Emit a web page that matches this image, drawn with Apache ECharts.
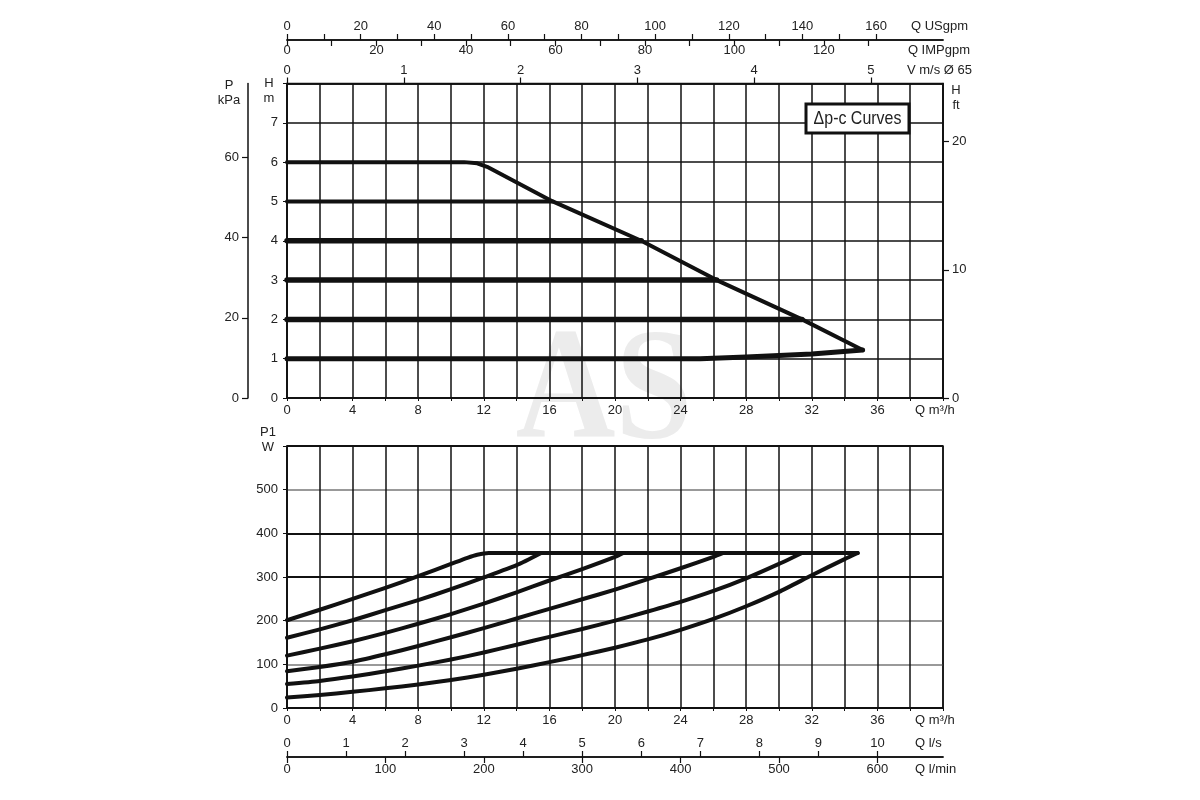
<!DOCTYPE html>
<html><head><meta charset="utf-8">
<script src="https://cdn.jsdelivr.net/npm/echarts@6/dist/echarts.min.js"></script>
<style>html,body{margin:0;padding:0;background:#fff}#c{width:1200px;height:800px}</style>
</head><body><div id="c"></div>
<script>
// ---- Head curves: [Q m³/h, H m] ----
const headMax6 = [[0,6],[10.8,6],[11.6,5.97],[12.2,5.88],[16.2,5],[21.6,4],[26.2,3],[31.4,2],[35.1,1.22]];
const head5 = [[0,5],[16.2,5]];
const head4 = [[0,4],[21.6,4]];
const head3 = [[0,3],[26.2,3]];
const head2 = [[0,2],[31.4,2]];
const head1 = [[0,1],[25.2,1],[28,1.04],[32,1.12],[35.1,1.22]];

// ---- Power curves: [Q m³/h, P1 W] ----
const power6 = [[0,201],[2,225],[4,250],[6,275],[8,302],[10,330],[11,344],[11.6,351],[12.3,355],[34.8,355]];
const power5 = [[0,161],[2,180],[4,201],[6,224],[8,247],[10,272],[12,299],[14,327],[15.5,355]];
const power4 = [[0,120],[2,136],[4,153],[6,172],[8,193],[10,215],[12,239],[14,265],[16,292],[18,318],[20,346],[20.5,355]];
const power3 = [[0,84],[2,94],[4,106],[6,123],[8,142],[10,162],[12,183],[14,205],[16,227],[18,249],[20,271],[22,295],[24,320],[26,346],[26.6,355]];
const power2 = [[0,55],[2,62],[4,72],[6,84],[8,97],[10,111],[12,127],[14,145],[16,163],[18,181],[20,200],[22,221],[24,243],[26,268],[28,297],[30,330],[31.4,355]];
const power1 = [[0,24],[2,30],[4,37],[6,45],[8,54],[10,64],[12,76],[14,90],[16,105],[18,121],[20,138],[22,157],[24,179],[26,204],[28,233],[30,266],[32,304],[34,341],[34.8,355]];

// ---- Tick labels of the auxiliary scales ----
const qMax = 40;            // m³/h, both panels
const hMax = 8;             // m
const wMax = 600;           // W
const usgpmTicks = [0,10,20,30,40,50,60,70,80,90,100,110,120,130,140,150,160];
const usgpmLabels = [0,20,40,60,80,100,120,140,160];
const impTicks = [0,10,20,30,40,50,60,70,80,90,100,110,120,130];
const impLabels = [0,20,40,60,80,100,120];
const velLabels = [0,1,2,3,4,5];
const kPaLabels = [0,20,40,60];
const ftLabels = [0,10,20];
const lsLabels = [0,1,2,3,4,5,6,7,8,9,10];
const lminLabels = [0,100,200,300,400,500,600];

// unit relations (m³/h per unit, m per unit) as printed on the sheet
const M3H_PER_USGPM = 0.2245, M3H_PER_IMPGPM = 0.2728, M3H_PER_MS = 7.12;
const M3H_PER_LS = 3.6, M3H_PER_LMIN = 0.06;
const M_PER_KPA = 0.102, M_PER_FT = 0.326;

const FONT = 'Liberation Sans, Arial, sans-serif';
const TXT = {color:'#222', fontSize:13, fontFamily:FONT};
const BLACK = '#111';

function mainX(grid){
  return {type:'value', gridIndex:grid, position:'bottom', min:0, max:qMax, interval:2,
    axisLine:{show:true, onZero:false, lineStyle:{color:BLACK, width:1.5}},
    axisTick:{show:true, length:3, lineStyle:{color:BLACK}},
    axisLabel:Object.assign({}, TXT, {margin:6, formatter:v => (v % 4 === 0 && v < qMax) ? String(v) : ''}),
    splitLine:{show:true, lineStyle:{color:BLACK, width:1.5}},
    name:'Q m³/h', nameLocation:'end', nameGap:-28, nameMoveOverlap:false,
    nameTextStyle:Object.assign({}, TXT, {align:'left', verticalAlign:'top', padding:[6,0,0,0]})};
}
function auxX(grid, pos, offset, max, tickVals, labelVals, inside, name, nameGap, nameAlign, nameVA, namePad, margin){
  return {type:'value', gridIndex:grid, position:pos, offset:offset, min:0, max:max,
    axisLine:{show:true, onZero:false, lineStyle:{color:BLACK, width:1.5}},
    axisTick:{show:true, inside:inside, length:6, customValues:tickVals, lineStyle:{color:BLACK, width:1.2}},
    axisLabel:Object.assign({}, TXT, {inside:inside, margin:margin, customValues:labelVals}),
    splitLine:{show:false},
    name:name, nameLocation:'end', nameGap:nameGap, nameMoveOverlap:false,
    nameTextStyle:Object.assign({}, TXT, {align:nameAlign, verticalAlign:nameVA, padding:namePad})};
}
function yAxisDef(o){
  return Object.assign({type:'value', nameLocation:'end', nameMoveOverlap:false,
    axisLine:{show:true, onZero:false, lineStyle:{color:BLACK, width:1.5}}}, o);
}

const option = {
  backgroundColor:'#fff',
  animation:false,
  graphic:[
    {type:'text', z:-10, silent:true, x:604, y:396, scaleY:1.15,
      style:{text:'AS', fill:'#ececec', font:'bold 138px "Liberation Serif", serif', align:'center', verticalAlign:'middle'}},
    {type:'rect', z:50, silent:true, shape:{x:806, y:104, width:103, height:29},
      style:{fill:'#fff', stroke:BLACK, lineWidth:3}},
    {type:'text', z:51, silent:true, x:857.5, y:119, scaleX:0.84,
      style:{text:'Δp-c Curves', fill:'#222', font:'19px "Liberation Sans", Arial, sans-serif', align:'center', verticalAlign:'middle'}}
  ],
  grid:[
    {left:287, top:83.5, width:656, height:314.5, show:true, borderColor:BLACK, borderWidth:1.5, backgroundColor:'transparent'},
    {left:287, top:446, width:656, height:262, show:true, borderColor:BLACK, borderWidth:1.5, backgroundColor:'transparent'}
  ],
  xAxis:[
    mainX(0),
    auxX(0,'top',43.5, qMax/M3H_PER_USGPM, usgpmTicks, usgpmLabels, false, 'Q USgpm', -32, 'left', 'bottom', [0,0,7,0], 7),
    auxX(0,'top',43.5, qMax/M3H_PER_IMPGPM, impTicks, impLabels, true, 'Q IMPgpm', 27, 'right', 'top', [4,0,0,0], 4),
    auxX(0,'top',0, qMax/M3H_PER_MS, velLabels, velLabels, false, 'V m/s Ø 65', 29, 'right', 'bottom', [0,0,7,0], 7),
    mainX(1),
    auxX(1,'bottom',49, qMax/M3H_PER_LS, lsLabels, lsLabels, true, 'Q l/s', -28, 'left', 'bottom', [0,0,7,0], 7),
    auxX(1,'bottom',49, qMax/M3H_PER_LMIN, lminLabels, lminLabels, false, 'Q l/min', -28, 'left', 'top', [6,0,0,0], 6)
  ],
  yAxis:[
    yAxisDef({gridIndex:0, position:'left', min:0, max:hMax, interval:1,
      axisTick:{show:true, length:4, lineStyle:{color:BLACK}},
      axisLabel:Object.assign({}, TXT, {margin:9, formatter:v => v < hMax ? String(v) : ''}),
      splitLine:{show:true, lineStyle:{color:BLACK, width:1.5}},
      name:'H\nm', nameGap:-7,
      nameTextStyle:Object.assign({}, TXT, {align:'center', verticalAlign:'middle', lineHeight:15, padding:[0,36,0,0]})}),
    yAxisDef({gridIndex:0, position:'left', offset:39, min:0, max:hMax/M_PER_KPA,
      axisTick:{show:true, length:6, customValues:kPaLabels, lineStyle:{color:BLACK, width:1.2}},
      axisLabel:Object.assign({}, TXT, {margin:9, customValues:kPaLabels}),
      splitLine:{show:false},
      name:'P\nkPa', nameGap:-9,
      nameTextStyle:Object.assign({}, TXT, {align:'center', verticalAlign:'middle', lineHeight:15, padding:[0,38,0,0]})}),
    yAxisDef({gridIndex:0, position:'right', min:0, max:hMax/M_PER_FT,
      axisTick:{show:true, length:6, customValues:ftLabels, lineStyle:{color:BLACK, width:1.2}},
      axisLabel:Object.assign({}, TXT, {margin:9, customValues:ftLabels}),
      splitLine:{show:false},
      name:'H\nft', nameGap:-14,
      nameTextStyle:Object.assign({}, TXT, {align:'center', verticalAlign:'middle', lineHeight:15, padding:[0,0,0,26]})}),
    yAxisDef({gridIndex:1, position:'left', min:0, max:wMax, interval:100,
      axisTick:{show:true, length:4, lineStyle:{color:BLACK}},
      axisLabel:Object.assign({}, TXT, {margin:9, formatter:v => v < wMax ? String(v) : ''}),
      splitLine:{show:true, lineStyle:{color:[BLACK,'#999999','#999999',BLACK,BLACK,'#999999',BLACK], width:2}},
      name:'P1\nW', nameGap:6.5,
      nameTextStyle:Object.assign({}, TXT, {align:'center', verticalAlign:'middle', lineHeight:15, padding:[0,38,0,0]})})
  ],
  series:[
    {name:'H6', data:headMax6, w:4, x:0, y:0, s:0},
    {name:'H5', data:head5, w:4, x:0, y:0, s:0},
    {name:'H4', data:head4, w:5.5, x:0, y:0, s:0},
    {name:'H3', data:head3, w:5.5, x:0, y:0, s:0},
    {name:'H2', data:head2, w:5.5, x:0, y:0, s:0},
    {name:'H1', data:head1, w:5, x:0, y:0, s:0},
    {name:'P6', data:power6, w:4, x:4, y:3, s:0.2},
    {name:'P5', data:power5, w:4, x:4, y:3, s:0.2},
    {name:'P4', data:power4, w:4, x:4, y:3, s:0.2},
    {name:'P3', data:power3, w:4, x:4, y:3, s:0.2},
    {name:'P2', data:power2, w:4, x:4, y:3, s:0.2},
    {name:'P1', data:power1, w:4, x:4, y:3, s:0.2}
  ].map(d => ({type:'line', name:d.name, data:d.data, xAxisIndex:d.x, yAxisIndex:d.y,
    showSymbol:false, silent:true, smooth:d.s || false, z:5,
    lineStyle:{color:BLACK, width:d.w, cap:'round', join:'round'}}))
};
const chart = echarts.init(document.getElementById('c'));
chart.setOption(option);
</script></body></html>
